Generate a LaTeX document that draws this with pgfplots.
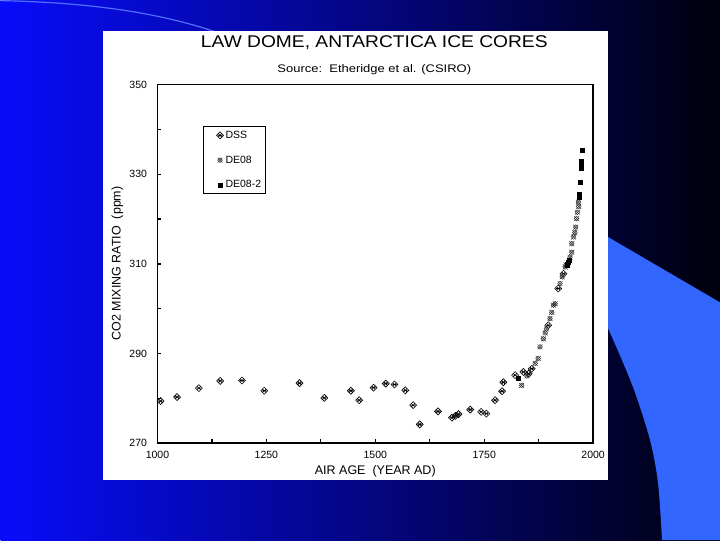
\documentclass[border=0pt]{standalone}
\usepackage{fontspec}
\setmainfont{Liberation Sans}
\usepackage{graphicx}
\usepackage{pgfplots}
\usepackage{pgfplotstable}
\pgfplotsset{compat=1.18}

\definecolor{lightbl}{RGB}{51,102,255}
\definecolor{arcbl}{RGB}{80,110,255}
\definecolor{bgleft}{RGB}{8,12,250}
\definecolor{bgmid}{RGB}{0,0,195}
\definecolor{bgright}{RGB}{0,0,12}

\pgfdeclareplotmark{dss}{%
  \pgfpathmoveto{\pgfqpoint{0pt}{\pgfplotmarksize}}%
  \pgfpathlineto{\pgfqpoint{\pgfplotmarksize}{0pt}}%
  \pgfpathlineto{\pgfqpoint{0pt}{-\pgfplotmarksize}}%
  \pgfpathlineto{\pgfqpoint{-\pgfplotmarksize}{0pt}}%
  \pgfpathclose
  \pgfpathmoveto{\pgfqpoint{-0.5\pgfplotmarksize}{-0.5\pgfplotmarksize}}%
  \pgfpathlineto{\pgfqpoint{0.5\pgfplotmarksize}{0.5\pgfplotmarksize}}%
  \pgfpathmoveto{\pgfqpoint{-0.5\pgfplotmarksize}{0.5\pgfplotmarksize}}%
  \pgfpathlineto{\pgfqpoint{0.5\pgfplotmarksize}{-0.5\pgfplotmarksize}}%
  \pgfpathmoveto{\pgfqpoint{-0.6\pgfplotmarksize}{0pt}}%
  \pgfpathlineto{\pgfqpoint{0.6\pgfplotmarksize}{0pt}}%
  \pgfusepathqstroke
}
\pgfdeclareplotmark{deo}{%
  \pgfpathmoveto{\pgfqpoint{0pt}{\pgfplotmarksize}}%
  \pgfpathlineto{\pgfqpoint{\pgfplotmarksize}{0pt}}%
  \pgfpathlineto{\pgfqpoint{0pt}{-\pgfplotmarksize}}%
  \pgfpathlineto{\pgfqpoint{-\pgfplotmarksize}{0pt}}%
  \pgfpathclose
  \pgfpathmoveto{\pgfqpoint{-\pgfplotmarksize}{-\pgfplotmarksize}}%
  \pgfpathlineto{\pgfqpoint{\pgfplotmarksize}{\pgfplotmarksize}}%
  \pgfpathmoveto{\pgfqpoint{-\pgfplotmarksize}{\pgfplotmarksize}}%
  \pgfpathlineto{\pgfqpoint{\pgfplotmarksize}{-\pgfplotmarksize}}%
  \pgfusepathqstroke
}

\pgfplotstableread{
x y
1007 279.4
1045 280.3
1095 282.3
1144 283.9
1194 284.0
1245 281.7
1326 283.4
1383 280.1
1444 281.7
1463 279.6
1496 282.4
1524 283.3
1544 283.1
1569 281.8
1587 278.5
1602 274.2
1644 277.1
1676 275.7
1684 276.1
1691 276.5
1718 277.5
1743 277.0
1755 276.6
1775 279.6
1791 281.6
1794 283.6
1821 285.2
1840 285.9
1852 285.5
1859 286.6
1897 296.3
1920 304.5
1932 307.8
}\dss

\pgfplotstableread{
x y
1836 282.9
1848 285.0
1867 287.8
1874 288.9
1878 291.5
1886 293.3
1890 294.6
1893 295.5
1901 297.8
1905 299.2
1909 300.8
1913 301.1
1924 305.6
1929 307.1
1936 309.3
1938 309.8
1947 311.5
1951 312.6
1951 314.5
1955 316.0
1958 317.0
1960 318.2
1962 320.1
1964 321.5
1966 323.8
1967 322.8
}\deo

\pgfplotstableread{
x y
1829 284.6
1940 310.0
1941 309.6
1943 310.4
1944 310.8
1967 324.8
1968 325.6
1970 328.2
1972 331.4
1972 332.4
1973 333.0
1974 335.4
}\deotwo

\begin{document}
\begin{tikzpicture}[x=1pt,y=1pt]
\shade[left color=bgleft, middle color=bgmid, right color=bgright] (0pt,0pt) rectangle (720pt,540pt);
\begin{scope}[shift={(0pt,540pt)},yscale=-1]
  \fill[lightbl] (600,232) -- (720,302) -- (720,540) -- (662,540)
     -- plot[smooth] coordinates {(662,540) (658,483) (650,440) (633,387) (608,328) (600,314)} -- cycle;
  \draw[arcbl, line width=1.2pt] (0,0) .. controls (90,2) and (160,12) .. (220,33);
  \fill[white] (102,30) rectangle (608,480);
  \node at (374,42) {\scalebox{1.13}[1]{\fontsize{17}{20}\selectfont LAW DOME, ANTARCTICA ICE CORES}};
  \node at (374,69) {\scalebox{1.18}[1]{\fontsize{11}{13}\selectfont Source:\ \ Etheridge et al. (CSIRO)}};
  \node at (375,471) {\fontsize{12.5}{14}\selectfont AIR AGE\ \ (YEAR AD)};
  \node[rotate=90] at (117,263) {\fontsize{12.5}{14}\selectfont CO2 MIXING RATIO\ \ (ppm)};
\end{scope}
\begin{axis}[
  at={(157pt,97pt)}, anchor=south west,
  width=436pt, height=359pt, scale only axis,
  xmin=1000, xmax=2000, ymin=270, ymax=350,
  axis line style={line width=1.6pt},
  xtick={1000,1125,...,2000}, xticklabels={1000,,1250,,1500,,1750,,2000},
  ytick={270,280,...,350}, yticklabels={270,,290,,310,,330,,350},
  xtick pos=bottom, ytick pos=left, tick align=inside,
  major tick length=4pt,
  tick style={line width=1.3pt, black},
  ticklabel style={font=\fontsize{10.5}{12}\selectfont},
  /pgf/number format/assume math mode=true,
  xticklabel style={yshift=-4pt},
  yticklabel style={xshift=-7pt},
  legend style={at={(0.1055,0.883)}, anchor=north west, draw=black, line width=0.8pt,
    font=\fontsize{10.5}{12}\selectfont, row sep=12pt, inner sep=2pt},
  legend cell align=left,
  legend image code/.code={\path[draw=none,fill=none] (0cm,0cm) -- (0.6cm,0cm); \draw[mark repeat=2,mark phase=2] plot coordinates {(0cm,0cm) (0.5cm,0cm) (0.55cm,0cm)};},
]
\addplot[only marks, mark=dss, mark size=3.5pt, black, line width=0.6pt] table[x=x,y=y] {\dss};
\addlegendentry{DSS}
\addplot[only marks, mark=deo, mark size=2.4pt, black!80, line width=0.5pt] table[x=x,y=y] {\deo};
\addlegendentry{DE08}
\addplot[only marks, mark=square*, mark size=2pt, black] table[x=x,y=y] {\deotwo};
\addlegendentry{DE08-2}
\end{axis}
\end{tikzpicture}
\end{document}
